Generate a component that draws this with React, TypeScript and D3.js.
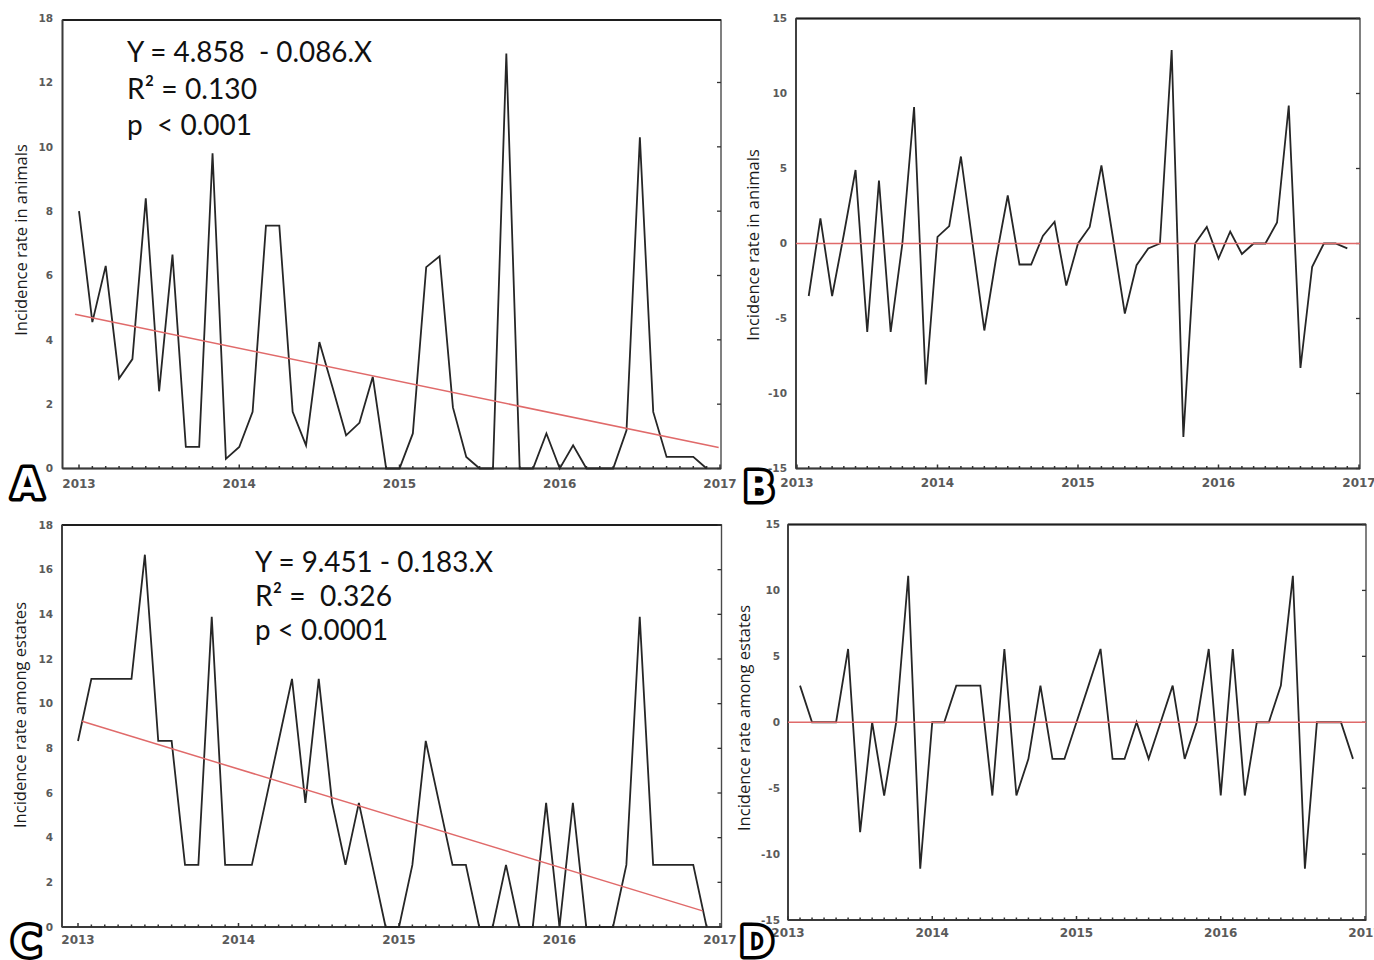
import React from "react";
import * as d3 from "d3";

// ---------- DATA (monthly, Jan 2013 .. Dec 2016) ----------
const YEARS = [2013, 2014, 2015, 2016, 2017];

// A: incidence rate in animals
const animalsRate = [
  8.0, 4.55, 6.3, 2.8, 3.4, 8.4, 2.4, 6.65, 0.67, 0.67, 9.8, 0.3,
  0.67, 1.76, 7.55, 7.55, 1.76, 0.72, 3.93, 2.5, 1.03, 1.42, 2.85, 0,
  0, 1.09, 6.26, 6.6, 1.9, 0.36, 0, 0, 12.9, 0, 0, 1.09,
  0, 0.72, 0, 0, 0, 1.19, 10.3, 1.76, 0.36, 0.36, 0.36, 0,
];

// B: differenced series in animals (starts Feb 2013)
const animalsDiff = [
  -3.5, 1.67, -3.5, 0.6, 4.9, -5.9, 4.2, -5.9, 0, 9.1, -9.4,
  0.44, 1.16, 5.8, 0, -5.8, -1.0, 3.2, -1.4, -1.4, 0.5, 1.45, -2.8,
  0, 1.1, 5.2, 0.3, -4.67, -1.45, -0.33, 0, 12.9, -12.9, 0, 1.1,
  -1.0, 0.8, -0.7, 0, 0, 1.4, 9.2, -8.3, -1.55, 0, 0, -0.33,
];

// C: incidence rate among estates
const estatesRate = [
  8.33, 11.11, 11.11, 11.11, 11.11, 16.67, 8.33, 8.33, 2.78, 2.78, 13.89, 2.78,
  2.78, 2.78, 5.56, 8.33, 11.11, 5.56, 11.11, 5.56, 2.78, 5.56, 2.78, 0,
  0, 2.78, 8.33, 5.56, 2.78, 2.78, 0, 0, 2.78, 0, 0, 5.56,
  0, 5.56, 0, 0, 0, 2.78, 13.89, 2.78, 2.78, 2.78, 2.78, 0,
];

// D: differenced series among estates (starts Feb 2013)
const estatesDiff = [
  2.78, 0, 0, 0, 5.56, -8.33, 0, -5.56, 0, 11.11, -11.11,
  0, 0, 2.78, 2.78, 2.78, -5.56, 5.56, -5.56, -2.78, 2.78, -2.78, -2.78,
  0, 2.78, 5.56, -2.78, -2.78, 0, -2.78, 0, 2.78, -2.78, 0, 5.56,
  -5.56, 5.56, -5.56, 0, 0, 2.78, 11.11, -11.11, 0, 0, 0, -2.78,
];

const yTicksA = [0, 2, 4, 6, 8, 10, 12];
const yTopLabelA = "18";
const yTicksC = [0, 2, 4, 6, 8, 10, 12, 14, 16, 18];
const yTicksDiff = [-15, -10, -5, 0, 5, 10, 15];

const regA = { intercept: 4.858, slope: -0.086 };
const regC = { intercept: 9.451, slope: -0.183 };

const eqA = ["Y = 4.858  - 0.086.X", "R\u00b2 = 0.130", "p  < 0.001"];
const eqC = ["Y = 9.451 - 0.183.X", "R\u00b2 =  0.326", "p < 0.0001"];

// ---------- LAYOUT ----------
type PanelCfg = {
  frame: { l: number; r: number; t: number; b: number };
  xr: [number, number];
  yDom: [number, number];
  yRange: [number, number];
  yTicks: number[];
  topLabel?: string;
  values: number[];
  start: number;
  reg?: { intercept: number; slope: number; i0: number; i1: number };
  zeroLine?: boolean;
  xLabelY: number;
  yLabelX: number;
  title: string;
  titlePos: [number, number];
  letter: string;
  letterPos: [number, number];
  eq?: string[];
  eqPos?: [number, number];
  eqBase?: number[];
  eqWidths?: number[];
};

const panels: PanelCfg[] = [
  {
    frame: { l: 62.5, r: 721, t: 20, b: 468.5 },
    xr: [79, 720],
    yDom: [0, 12],
    yRange: [468.5, 82.5],
    yTicks: yTicksA,
    topLabel: yTopLabelA,
    values: animalsRate,
    start: 0,
    reg: { ...regA, i0: -0.3, i1: 47.9 },
    xLabelY: 488,
    yLabelX: 53,
    title: "Incidence rate in animals",
    titlePos: [27, 240],
    letter: "A",
    letterPos: [27.5, 498],
    eq: eqA,
    eqPos: [127, 0],
    eqBase: [62, 99, 135],
    eqWidths: [245, 130, 125],
  },
  {
    frame: { l: 796, r: 1360, t: 18.5, b: 468.5 },
    xr: [797, 1359],
    yDom: [-15, 15],
    yRange: [468.5, 18.5],
    yTicks: yTicksDiff,
    values: animalsDiff,
    start: 1,
    zeroLine: true,
    xLabelY: 487,
    yLabelX: 787,
    title: "Incidence rate in animals",
    titlePos: [759, 245],
    letter: "B",
    letterPos: [759, 501],
  },
  {
    frame: { l: 62, r: 721.5, t: 525, b: 927 },
    xr: [78, 720],
    yDom: [0, 18],
    yRange: [927, 525],
    yTicks: yTicksC,
    values: estatesRate,
    start: 0,
    reg: { ...regC, i0: 0.3, i1: 46.7 },
    xLabelY: 944,
    yLabelX: 53,
    title: "Incidence rate among estates",
    titlePos: [25.5, 715],
    letter: "C",
    letterPos: [26.5, 956],
    eq: eqC,
    eqPos: [255, 0],
    eqBase: [572, 606, 640],
    eqWidths: [238, 137, 133],
  },
  {
    frame: { l: 788, r: 1366, t: 524.5, b: 920 },
    xr: [788, 1365],
    yDom: [-15, 15],
    yRange: [920, 524.5],
    yTicks: yTicksDiff,
    values: estatesDiff,
    start: 1,
    zeroLine: true,
    xLabelY: 937,
    yLabelX: 780,
    title: "Incidence rate among estates",
    titlePos: [750, 718],
    letter: "D",
    letterPos: [756.5, 956],
  },
];

const TICK_FONT = "'DejaVu Sans', Verdana, sans-serif";
const TITLE_FONT = "'Open Sans', 'Noto Sans', sans-serif";
const EQ_FONT = "Lato, 'Open Sans', sans-serif";

function Panel({ p }: { p: PanelCfg }) {
  const x = d3.scaleLinear().domain([0, 48]).range(p.xr);
  const y = d3.scaleLinear().domain(p.yDom).range(p.yRange);
  const line = d3
    .line<number>()
    .x((_, i) => x(i + p.start))
    .y((d) => y(d));
  const months = d3.range(0, 49);
  const { l, r, t, b } = p.frame;

  let regPath: string | null = null;
  if (p.reg) {
    const reg = p.reg;
    const pts = [reg.i0, reg.i1];
    regPath = d3
      .line<number>()
      .x((i) => x(i))
      .y((i) => y(reg.intercept + reg.slope * (i + 1)))(pts);
  }

  return (
    <g>
      {/* frame */}
      <rect x={l} y={t} width={r - l} height={b - t} fill="none" stroke="#4a4a4a" strokeWidth={1.4} />
      <line x1={l} x2={r} y1={t} y2={t} stroke="#1e1e1e" strokeWidth={2} />
      <line x1={l} x2={l} y1={t} y2={b} stroke="#3a3a3a" strokeWidth={1.8} />
      <line x1={l} x2={r} y1={b} y2={b} stroke="#3a3a3a" strokeWidth={1.8} />

      {/* bottom ticks */}
      {months.map((m) => (
        <line
          key={"mt" + m}
          x1={x(m)}
          x2={x(m)}
          y1={b}
          y2={b - (m % 12 === 0 ? 4 : 2.5)}
          stroke="#333"
          strokeWidth={1.5}
        />
      ))}
      {/* right ticks */}
      {p.yTicks.map((v) => (
        <line key={"rt" + v} x1={r} x2={r - 4} y1={y(v)} y2={y(v)} stroke="#333" strokeWidth={1.3} />
      ))}

      {/* x tick labels */}
      {YEARS.map((yr, i) => (
        <text
          key={"xl" + yr}
          x={x(i * 12)}
          y={p.xLabelY}
          textAnchor="middle"
          fontFamily={TICK_FONT}
          fontWeight="bold"
          fontSize={12}
          fill="#5a5a5a"
        >
          {yr}
        </text>
      ))}
      {/* y tick labels */}
      {p.yTicks.map((v) => (
        <text
          key={"yl" + v}
          x={p.yLabelX}
          y={y(v)}
          dy="0.36em"
          textAnchor="end"
          fontFamily={TICK_FONT}
          fontWeight="bold"
          fontSize={10.5}
          fill="#5a5a5a"
        >
          {v < 0 ? "-" + Math.abs(v) : v}
        </text>
      ))}
      {p.topLabel && (
        <text
          x={p.yLabelX}
          y={t - 2}
          dy="0.36em"
          textAnchor="end"
          fontFamily={TICK_FONT}
          fontWeight="bold"
          fontSize={10.5}
          fill="#5a5a5a"
        >
          {p.topLabel}
        </text>
      )}

      {/* data */}
      <path d={line(p.values) || ""} fill="none" stroke="#262626" strokeWidth={1.8} strokeLinejoin="miter" />

      {/* reference lines */}
      {regPath && <path d={regPath} fill="none" stroke="#e06a6a" strokeWidth={1.5} />}
      {p.zeroLine && (
        <line x1={l} x2={r} y1={y(0)} y2={y(0)} stroke="#e06a6a" strokeWidth={1.6} />
      )}

      {/* equation text */}
      {p.eq &&
        p.eq.map((s, i) => (
          <text
            key={"eq" + i}
            x={p.eqPos![0]}
            y={p.eqBase![i]}
            fontFamily={EQ_FONT}
            fontSize={29}
            fill="#111"
            textLength={p.eqWidths![i]}
            lengthAdjust="spacingAndGlyphs"
            style={{ whiteSpace: "pre" }}
          >
            {s}
          </text>
        ))}

      {/* axis title */}
      <text
        transform={`translate(${p.titlePos[0]},${p.titlePos[1]}) rotate(-90)`}
        textAnchor="middle"
        fontFamily={TITLE_FONT}
        fontSize={16.5}
        fill="#1a1a1a"
      >
        {p.title}
      </text>

      {/* panel letter */}
      <text
        x={p.letterPos[0]}
        y={p.letterPos[1]}
        textAnchor="middle"
        fontFamily="'DejaVu Sans', sans-serif"
        fontWeight="bold"
        fontSize={40}
        fill="#fff"
        stroke="#000"
        strokeWidth={7}
        strokeLinejoin="round"
        style={{ paintOrder: "stroke" }}
      >
        {p.letter}
      </text>
    </g>
  );
}

export default function App() {
  return (
    <svg
      width={1374}
      height={960}
      viewBox="0 0 1374 960"
      style={{ position: "absolute", left: 0, top: 0, background: "#fff" }}
    >
      <rect x={0} y={0} width={1374} height={960} fill="#fff" />
      {panels.map((p, i) => (
        <Panel key={i} p={p} />
      ))}
    </svg>
  );
}
